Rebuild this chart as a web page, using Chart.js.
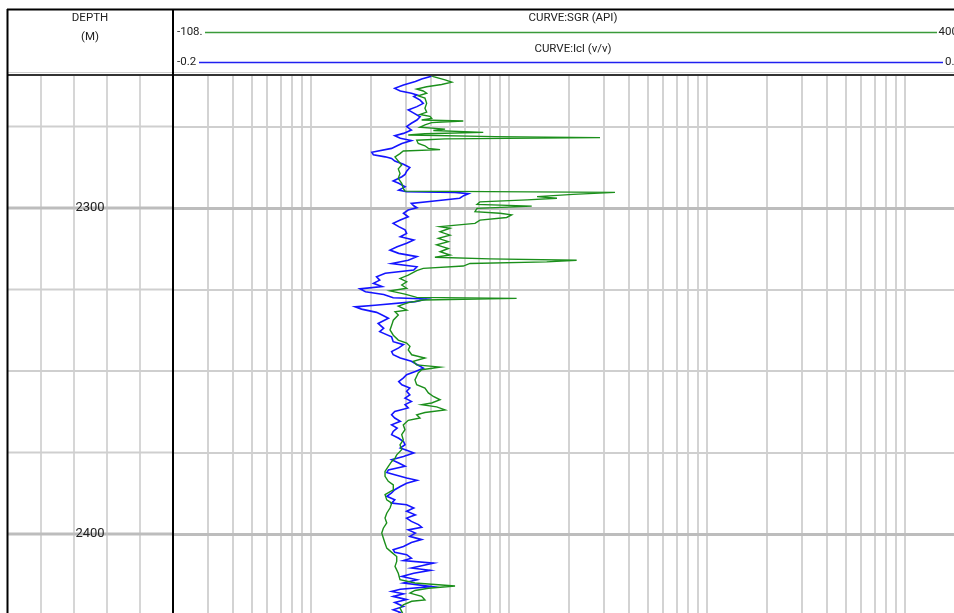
<!DOCTYPE html>
<html>
<head>
<meta charset="utf-8">
<script src="https://cdn.jsdelivr.net/npm/chart.js@4.4.1/dist/chart.umd.min.js"></script>
<style>
html, body { margin: 0; padding: 0; background: #fff; overflow: hidden; }
canvas { display: block; }
</style>
</head>
<body>
<canvas id="logChart" width="965" height="613"></canvas>
<script>
var depthMin = 2259.2, depthMax = 2424.2;
var gridDepths = [2275, 2300, 2325, 2350, 2375, 2400, 2425];
var depthLabels = [2300, 2400];
var logGrid = [1.5, 2, 2.5, 3, 3.5, 4, 4.5, 5,
  10, 15, 20, 25, 30, 35, 40, 45, 50,
  100, 150, 200, 250, 300, 350, 400, 450, 500,
  1000, 1500, 2000, 2500, 3000, 3500, 4000, 4500, 5000];
var sgrRange = [-108, 400];
var iclRange = [-0.2, 0.8];

// SGR (API)
var sgrDepth = [2259.2, 2259.7, 2260.7, 2261.4, 2262.1, 2262.8, 2263.5, 2264.1, 2264.8, 2265.6, 2266.3, 2267.9,
  2269.4, 2270.6, 2271.3, 2271.9, 2272.5, 2273.0, 2273.3, 2273.8, 2274.5, 2275.2, 2275.8, 2276.2, 2276.8,
  2277.2, 2277.6, 2278.1, 2278.4, 2278.8, 2279.2, 2280.2, 2280.9, 2281.7, 2282.1, 2282.5, 2283.3, 2284.3,
  2285.6, 2286.8, 2288.0, 2289.4, 2290.9, 2292.4, 2294.0, 2294.8, 2295.2, 2295.8, 2296.5, 2297.0, 2297.5,
  2298.1, 2298.9, 2299.4, 2300.1, 2301.1, 2301.6, 2302.1, 2302.9, 2303.7, 2304.7, 2305.7, 2306.2, 2307.3,
  2308.3, 2309.3, 2310.3, 2311.3, 2312.4, 2313.4, 2314.4, 2315.1, 2315.6, 2316.0, 2316.5, 2317.0, 2317.8,
  2318.5, 2319.2, 2320.6, 2321.6, 2322.6, 2323.6, 2324.6, 2325.4, 2326.4, 2327.4, 2327.7, 2328.2, 2329.0,
  2330.1, 2331.3, 2331.8, 2332.8, 2334.4, 2335.9, 2337.4, 2339.0, 2340.5, 2341.4, 2342.4, 2343.5, 2345.0,
  2346.0, 2347.0, 2348.1, 2348.8, 2349.6, 2350.6, 2351.6, 2352.7, 2354.2, 2355.2, 2356.7, 2357.8, 2358.8,
  2359.8, 2360.3, 2361.0, 2361.9, 2362.7, 2363.4, 2364.4, 2365.1, 2366.5, 2368.0, 2369.5, 2371.1, 2372.6,
  2374.1, 2375.7, 2376.7, 2377.7, 2379.2, 2380.8, 2382.3, 2383.8, 2384.9, 2386.4, 2387.9, 2389.5, 2390.5,
  2392.0, 2393.6, 2395.1, 2396.6, 2398.2, 2399.7, 2401.2, 2402.8, 2404.3, 2405.6, 2406.9, 2408.4, 2409.9,
  2412.0, 2414.0, 2415.0, 2415.9, 2416.6, 2417.3, 2418.1, 2419.1, 2420.2, 2420.6, 2421.7, 2422.7, 2423.7, 2425.0];
var sgrValue = [57.0, 59.0, 66.5, 70.8, 64.3, 54.7, 48.3, 52.5, 54.7, 49.3, 53.6, 54.7,
  53.6, 54.7, 50.4, 56.8, 57.9, 51.5, 78.2, 57.9, 53.6, 50.4, 66.5, 59.0, 91.0,
  53.6, 42.9, 98.5, 165.9, 66.5, 48.3, 49.3, 53.6, 55.8, 63.3, 39.7, 37.6, 34.4,
  36.5, 38.7, 36.5, 37.6, 36.5, 38.7, 39.7, 40.8, 175.5, 148.6, 125.5, 138.3, 119.1,
  88.9, 87.0, 122.1, 87.0, 85.7, 101.7, 109.2, 106.0, 88.9, 85.7, 63.3, 69.7, 63.3,
  69.7, 62.2, 68.6, 61.1, 68.6, 63.3, 69.7, 60.0, 95.3, 150.9, 131.7, 82.5, 78.2,
  52.5, 48.3, 42.9, 37.6, 41.9, 38.7, 41.9, 31.2, 40.8, 48.3, 112.4, 52.5, 42.9,
  36.5, 41.9, 34.4, 36.5, 33.3, 32.3, 31.2, 33.3, 36.5, 41.9, 44.0, 42.9, 45.1,
  53.6, 46.1, 48.3, 63.3, 51.5, 49.3, 48.3, 47.2, 48.3, 53.6, 55.8, 59.0, 63.3,
  57.9, 51.5, 61.1, 66.5, 53.6, 48.3, 50.4, 42.9, 39.7, 40.8, 38.7, 39.7, 37.6,
  38.7, 35.5, 34.4, 32.3, 30.1, 28.0, 28.0, 30.1, 33.3, 33.3, 28.0, 29.1, 32.3,
  31.2, 29.1, 28.0, 29.1, 26.9, 25.9, 26.9, 28.0, 29.1, 32.3, 35.5, 35.5, 34.4,
  36.5, 37.6, 47.2, 72.9, 55.8, 47.2, 44.0, 51.5, 53.6, 45.1, 39.7, 37.6, 38.7, 40.0];

// Icl (v/v)
var iclDepth = [2259.2, 2259.7, 2260.4, 2261.2, 2262.3, 2263.3, 2264.1, 2264.8, 2265.3, 2265.8, 2266.9, 2267.9,
  2268.9, 2269.9, 2270.9, 2272.0, 2273.0, 2274.0, 2275.0, 2276.1, 2277.1, 2277.8, 2278.6, 2279.3, 2280.2,
  2280.9, 2281.7, 2282.9, 2283.7, 2284.3, 2284.8, 2285.6, 2286.6, 2287.6, 2288.7, 2289.7, 2290.4, 2291.7,
  2292.4, 2293.5, 2294.5, 2295.0, 2295.2, 2295.6, 2296.2, 2297.0, 2297.9, 2298.6, 2299.3, 2299.9, 2300.6,
  2301.6, 2302.7, 2303.7, 2304.7, 2305.7, 2306.7, 2307.8, 2308.8, 2309.8, 2310.8, 2311.9, 2312.9, 2313.9,
  2314.9, 2316.0, 2317.0, 2318.0, 2319.0, 2320.0, 2321.1, 2322.1, 2323.1, 2324.1, 2324.8, 2325.7, 2326.5,
  2327.5, 2327.9, 2328.7, 2329.8, 2330.3, 2331.0, 2332.0, 2332.8, 2333.8, 2335.4, 2336.9, 2337.9, 2339.5,
  2341.0, 2341.9, 2342.9, 2344.0, 2345.0, 2346.0, 2347.0, 2348.0, 2349.1, 2350.1, 2351.1, 2352.1, 2353.2,
  2354.2, 2355.2, 2356.2, 2357.3, 2358.3, 2359.3, 2360.3, 2361.3, 2362.4, 2363.4, 2364.4, 2365.4, 2366.5,
  2367.5, 2368.5, 2369.5, 2370.6, 2371.6, 2372.6, 2373.6, 2374.3, 2375.1, 2376.2, 2377.2, 2378.2, 2379.2,
  2380.3, 2381.1, 2381.8, 2382.8, 2383.5, 2384.4, 2385.4, 2386.4, 2387.4, 2388.4, 2389.5, 2390.5, 2391.0,
  2392.0, 2393.0, 2394.1, 2395.1, 2396.1, 2397.1, 2397.9, 2398.7, 2399.7, 2400.7, 2401.7, 2402.6, 2403.8,
  2404.8, 2405.6, 2406.3, 2407.4, 2408.1, 2408.9, 2409.7, 2410.4, 2411.1, 2412.0, 2413.0, 2414.0, 2415.0,
  2416.1, 2416.9, 2417.6, 2418.3, 2419.1, 2420.1, 2421.0, 2422.2, 2423.2, 2424.0, 2425.0];
var iclValue = [0.127, 0.125, 0.114, 0.106, 0.091, 0.080, 0.087, 0.101, 0.108, 0.104, 0.112, 0.116,
  0.108, 0.097, 0.104, 0.112, 0.108, 0.101, 0.095, 0.101, 0.091, 0.080, 0.087, 0.101, 0.089,
  0.083, 0.076, 0.051, 0.053, 0.068, 0.076, 0.080, 0.091, 0.099, 0.095, 0.093, 0.089, 0.078,
  0.085, 0.093, 0.085, 0.095, 0.156, 0.173, 0.167, 0.162, 0.127, 0.101, 0.104, 0.108, 0.097,
  0.091, 0.097, 0.087, 0.078, 0.085, 0.093, 0.095, 0.087, 0.104, 0.095, 0.083, 0.074, 0.085,
  0.108, 0.097, 0.076, 0.108, 0.104, 0.068, 0.057, 0.061, 0.053, 0.064, 0.036, 0.043, 0.066,
  0.078, 0.120, 0.106, 0.055, 0.030, 0.038, 0.057, 0.064, 0.072, 0.059, 0.066, 0.061, 0.076,
  0.078, 0.091, 0.085, 0.076, 0.078, 0.087, 0.101, 0.108, 0.116, 0.106, 0.095, 0.091, 0.085,
  0.089, 0.099, 0.095, 0.099, 0.093, 0.101, 0.093, 0.097, 0.080, 0.076, 0.080, 0.087, 0.076,
  0.083, 0.078, 0.076, 0.085, 0.091, 0.093, 0.087, 0.095, 0.104, 0.091, 0.076, 0.085, 0.093,
  0.072, 0.070, 0.080, 0.095, 0.108, 0.095, 0.087, 0.080, 0.076, 0.070, 0.080, 0.076, 0.095,
  0.104, 0.095, 0.106, 0.095, 0.101, 0.110, 0.114, 0.097, 0.106, 0.099, 0.114, 0.101, 0.091,
  0.078, 0.080, 0.095, 0.101, 0.091, 0.129, 0.114, 0.101, 0.125, 0.104, 0.089, 0.108, 0.091,
  0.127, 0.087, 0.076, 0.091, 0.078, 0.095, 0.080, 0.091, 0.078, 0.087, 0.080];

function toPoints(depths, values) {
  var pts = [];
  for (var i = 0; i < depths.length; i++) {
    pts.push({ x: values[i], y: depths[i] });
  }
  return pts;
}

var FONT = "Roboto, 'Liberation Sans', sans-serif";
var TRACK_LEFT = 7, TRACK_SPLIT = 173;
var depthTrackLines = [41, 74, 107, 140];

var frame = {
  id: 'frame',
  beforeDraw: function (chart) {
    var ctx = chart.ctx;
    ctx.save();
    ctx.fillStyle = '#fff';
    ctx.fillRect(0, 0, chart.width, chart.height);
    ctx.restore();
  },
  beforeDatasetsDraw: function (chart) {
    var ctx = chart.ctx, a = chart.chartArea, ys = chart.scales.y;
    ctx.save();
    ctx.strokeStyle = '#d6d6d6';
    ctx.lineWidth = 2;
    depthTrackLines.forEach(function (x) {
      ctx.beginPath();
      ctx.moveTo(x, a.top);
      ctx.lineTo(x, a.bottom);
      ctx.stroke();
    });
    gridDepths.forEach(function (d) {
      var y = ys.getPixelForValue(d);
      ctx.strokeStyle = d % 100 === 0 ? '#bdbdbd' : '#cfcfcf';
      ctx.lineWidth = d % 100 === 0 ? 3 : 2;
      ctx.beginPath();
      ctx.moveTo(TRACK_LEFT, y);
      ctx.lineTo(TRACK_SPLIT, y);
      ctx.stroke();
    });
    ctx.restore();
  },
  afterDraw: function (chart) {
    var ctx = chart.ctx, a = chart.chartArea, ys = chart.scales.y;
    var W = chart.width;
    ctx.save();

    // header
    ctx.fillStyle = '#fff';
    ctx.fillRect(0, 0, W, a.top - 1);
    ctx.fillStyle = '#222';
    ctx.textAlign = 'center';
    ctx.textBaseline = 'middle';
    ctx.font = '11.5px ' + FONT;
    ctx.fillText('DEPTH', 90, 18);
    ctx.fillText('(M)', 90, 37);
    var mid = (a.left + a.right) / 2 + 4;
    ctx.fillText('CURVE:SGR (API)', mid, 18);
    ctx.fillText('CURVE:Icl (v/v)', mid, 49);

    ctx.textAlign = 'left';
    ctx.fillText(sgrRange[0] + '.', 177, 32);
    ctx.fillText(iclRange[0].toString(), 177, 62);
    ctx.textAlign = 'right';
    ctx.fillText(sgrRange[1] + '.', a.right - 4, 32);
    ctx.fillText(iclRange[1].toString(), a.right - 4, 62);

    ctx.lineWidth = 1.5;
    ctx.strokeStyle = '#3a9a3a';
    ctx.beginPath(); ctx.moveTo(205, 32.5); ctx.lineTo(937, 32.5); ctx.stroke();
    ctx.strokeStyle = '#2020f0';
    ctx.beginPath(); ctx.moveTo(199, 62.5); ctx.lineTo(943, 62.5); ctx.stroke();

    // depth labels
    ctx.textAlign = 'center';
    ctx.font = '13px ' + FONT;
    ctx.fillStyle = '#222';
    depthLabels.forEach(function (d) {
      ctx.fillText(String(d), 90, ys.getPixelForValue(d));
    });

    // frame lines
    ctx.strokeStyle = '#cfcfcf';
    ctx.lineWidth = 1;
    ctx.beginPath(); ctx.moveTo(TRACK_LEFT, 72.5); ctx.lineTo(W, 72.5); ctx.stroke();
    ctx.strokeStyle = '#333';
    ctx.lineWidth = 2;
    ctx.beginPath(); ctx.moveTo(TRACK_LEFT, 75); ctx.lineTo(W, 75); ctx.stroke();
    ctx.strokeStyle = '#000';
    ctx.beginPath(); ctx.moveTo(TRACK_LEFT, 9.5); ctx.lineTo(W, 9.5); ctx.stroke();
    ctx.beginPath(); ctx.moveTo(TRACK_LEFT + 0.5, 9); ctx.lineTo(TRACK_LEFT + 0.5, a.bottom); ctx.stroke();
    ctx.beginPath(); ctx.moveTo(TRACK_SPLIT, 9); ctx.lineTo(TRACK_SPLIT, a.bottom); ctx.stroke();
    ctx.restore();
  }
};

var ctx = document.getElementById('logChart');
var logChart = new Chart(ctx, {
  type: 'line',
  data: {
    datasets: [
      {
        label: 'SGR',
        data: toPoints(sgrDepth, sgrValue),
        xAxisID: 'xs',
        yAxisID: 'y',
        indexAxis: 'y',
        borderColor: '#1b8f1b',
        borderWidth: 1.4,
        pointRadius: 0,
        tension: 0,
        fill: false
      },
      {
        label: 'Icl',
        data: toPoints(iclDepth, iclValue),
        xAxisID: 'xi',
        yAxisID: 'y',
        indexAxis: 'y',
        borderColor: '#1414ff',
        borderWidth: 1.6,
        pointRadius: 0,
        tension: 0,
        fill: false
      }
    ]
  },
  options: {
    responsive: false,
    animation: false,
    devicePixelRatio: 1,
    layout: { padding: { left: 173, top: 75, right: 0, bottom: 0 } },
    plugins: { legend: { display: false }, tooltip: { enabled: false } },
    scales: {
      xg: {
        type: 'logarithmic',
        position: 'top',
        min: 1,
        max: 10000,
        ticks: { display: false },
        border: { display: false },
        grid: { color: '#d3d3d3', lineWidth: 2, drawTicks: false },
        afterBuildTicks: function (scale) {
          scale.ticks = logGrid.map(function (v) { return { value: v }; });
        }
      },
      xs: { type: 'linear', display: false, min: sgrRange[0], max: sgrRange[1] },
      xi: { type: 'linear', display: false, min: iclRange[0], max: iclRange[1] },
      y: {
        type: 'linear',
        reverse: true,
        min: depthMin,
        max: depthMax,
        ticks: { display: false },
        border: { display: false },
        grid: {
          drawTicks: false,
          color: function (c) { return c.tick && c.tick.value % 100 === 0 ? '#bdbdbd' : '#cfcfcf'; },
          lineWidth: function (c) { return c.tick && c.tick.value % 100 === 0 ? 3 : 2; }
        },
        afterBuildTicks: function (scale) {
          scale.ticks = gridDepths.map(function (v) { return { value: v }; });
        }
      }
    }
  },
  plugins: [frame]
});
</script>
</body>
</html>
